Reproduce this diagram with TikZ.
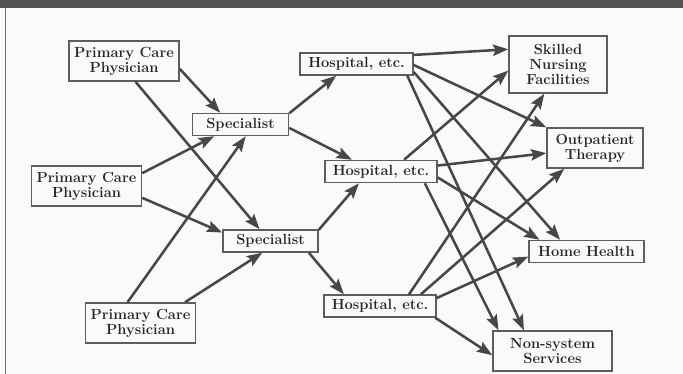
\documentclass[tikz,border=0pt]{standalone}
\usetikzlibrary{arrows.meta}
\definecolor{inkgray}{HTML}{474747}
\definecolor{boxgray}{HTML}{5E5E5E}
\definecolor{txtgray}{HTML}{262626}
\definecolor{paper}{HTML}{FAFAF8}
\tikzset{
  unitbox/.style={%
    draw=boxgray, line width=1.1pt, fill=paper, text=txtgray,
    font=\fontsize{11}{11.4}\selectfont\bfseries, align=center,
    inner sep=1pt, minimum width=#1,
  },
  oneline/.style={unitbox=#1, minimum height=16.5pt},
  twoline/.style={unitbox=#1, minimum height=30pt},
  flow/.style={%
    draw=inkgray, line width=1.9pt,
    -{Stealth[length=11.5pt,width=8.5pt,inset=2pt]},
  },
}

\begin{document}
\begin{tikzpicture}[x=0.75pt,y=-0.75pt]
\useasboundingbox (0,0) rectangle (683,374);
\fill[paper] (0,0) rectangle (683,374);
\fill[black!68] (0,0) rectangle (683,8);
\draw[black!55, line width=1.4pt] (5.5,8) -- (5.5,374);
\node[twoline=82.5pt] (pcpa) at (124,61) {Primary Care\\Physician};
\node[twoline=82.5pt] (pcpb) at (86.5,186) {Primary Care\\Physician};
\node[twoline=82.5pt] (pcpc) at (140.5,323) {Primary Care\\Physician};
\node[oneline=72pt] (speca) at (240.5,124.5) {Specialist};
\node[oneline=71.25pt] (specb) at (270.5,241) {Specialist};
\node[oneline=84.75pt] (hospa) at (356.5,64) {Hospital, etc.};
\node[oneline=84pt] (hospb) at (381,171.5) {Hospital, etc.};
\node[oneline=84pt] (hospc) at (380,306) {Hospital, etc.};
\node[unitbox=73.5pt, minimum height=42.75pt] (snf) at (558,64.5) {Skilled\\Nursing\\Facilities};
\node[twoline=72pt] (outp) at (595,148) {Outpatient\\Therapy};
\node[oneline=86.25pt] (home) at (586.5,251.5) {Home Health};
\node[twoline=89.25pt] (nons) at (552.5,351) {Non-system\\Services};
\draw[flow] (pcpa.-8.3) -- (speca.150.4);
\draw[flow] (pcpa.-61.2) -- (specb.133.7);
\draw[flow] (pcpb.13.2) -- (speca.204.1);
\draw[flow] (pcpb.-12.2) -- (specb.170.4);
\draw[flow] (pcpc.122) -- (speca.-66.8);
\draw[flow] (pcpc.25.2) -- (specb.235.7);
\draw[flow] (speca.13.9) -- (hospa.210.7);
\draw[flow] (speca.-4.1) -- (hospb.158);
\draw[flow] (specb.13.3) -- (hospb.208.5);
\draw[flow] (specb.-17.7) -- (hospc.162.5);
\draw[flow] (hospa.9.1) -- (snf.163.5);
\draw[flow] (hospa.-1) -- (outp.157);
\draw[flow] (hospa.-8.1) -- (home.156.5);
\draw[flow] (hospa.-13.3) -- (nons.144);
\draw[flow] (hospb.27.6) -- (snf.187.6);
\draw[flow] (hospb.6.6) -- (outp.186);
\draw[flow] (hospb.-6.6) -- (home.166.9);
\draw[flow] (hospb.-15.3) -- (nons.159.1);
\draw[flow] (hospc.22.2) -- (snf.245.5);
\draw[flow] (hospc.16.1) -- (outp.214.6);
\draw[flow] (hospc.8.1) -- (home.185.5);
\draw[flow] (hospc.-12.9) -- (nons.184.8);
\end{tikzpicture}
\end{document}
